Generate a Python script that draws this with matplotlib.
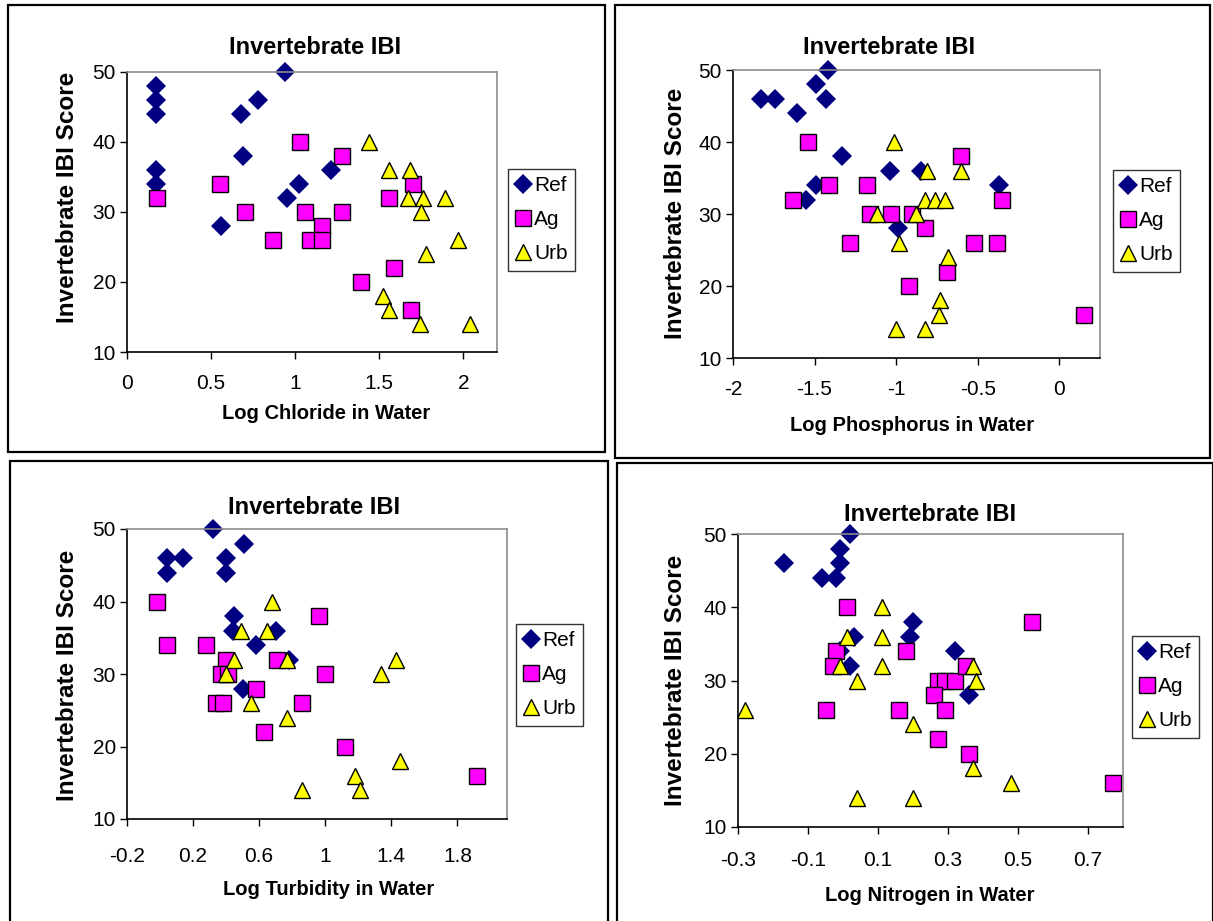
import matplotlib
matplotlib.use("Agg")
import matplotlib.pyplot as plt
from matplotlib.patches import Rectangle

plt.rcParams['font.family'] = ['Liberation Sans', 'DejaVu Sans']

W, H = 1213, 921

# ---- data ----
y_ticks = [10, 20, 30, 40, 50]
series_names = ["Ref", "Ag", "Urb"]

# Log Chloride
cl_ref_x = [0.17, 0.17, 0.17, 0.17, 0.17, 0.94, 0.78, 0.68, 0.69, 0.56, 1.21, 1.02, 0.95]
cl_ref_y = [48, 46, 44, 36, 34, 50, 46, 44, 38, 28, 36, 34, 32]
cl_ag_x = [0.18, 0.55, 1.03, 1.28, 0.70, 1.06, 1.28, 1.16, 0.87, 1.09, 1.16, 1.70, 1.56, 1.59, 1.39, 1.69]
cl_ag_y = [32, 34, 40, 38, 30, 30, 30, 28, 26, 26, 26, 34, 32, 22, 20, 16]
cl_urb_x = [1.44, 1.56, 1.68, 1.67, 1.76, 1.89, 1.75, 1.97, 1.78, 1.52, 1.56, 1.74, 2.04]
cl_urb_y = [40, 36, 36, 32, 32, 32, 30, 26, 24, 18, 16, 14, 14]
cl_xticks = [0, 0.5, 1, 1.5, 2]
cl_xticklabels = ["0", "0.5", "1", "1.5", "2"]

# Log Phosphorus
p_ref_x = [-1.83, -1.74, -1.61, -1.49, -1.42, -1.43, -1.33, -1.49, -1.55, -1.04, -0.99, -0.85, -0.37]
p_ref_y = [46, 46, 44, 48, 50, 46, 38, 34, 32, 36, 28, 36, 34]
p_ag_x = [-1.63, -1.54, -1.41, -1.18, -1.16, -1.28, -1.03, -0.90, -0.82, -0.92, -0.69, -0.60, -0.52, -0.38, -0.35, 0.15]
p_ag_y = [32, 40, 34, 34, 30, 26, 30, 30, 28, 20, 22, 38, 26, 26, 32, 16]
p_urb_x = [-1.01, -0.81, -0.60, -0.82, -0.76, -0.70, -1.12, -0.88, -0.98, -0.68, -0.73, -0.74, -1.00, -0.82]
p_urb_y = [40, 36, 36, 32, 32, 32, 30, 30, 26, 24, 18, 16, 14, 14]
p_xticks = [-2, -1.5, -1, -0.5, 0]
p_xticklabels = ["-2", "-1.5", "-1", "-0.5", "0"]

# Log Turbidity
t_ref_x = [0.32, 0.51, 0.04, 0.14, 0.04, 0.40, 0.40, 0.45, 0.44, 0.70, 0.58, 0.50, 0.78]
t_ref_y = [50, 48, 46, 46, 44, 46, 44, 38, 36, 36, 34, 28, 32]
t_ag_x = [-0.02, 0.04, 0.28, 0.40, 0.37, 0.41, 0.71, 0.96, 1.00, 0.58, 0.34, 0.38, 0.86, 0.63, 1.12, 1.92]
t_ag_y = [40, 34, 34, 32, 30, 30, 32, 38, 30, 28, 26, 26, 26, 22, 20, 16]
t_urb_x = [0.68, 0.49, 0.65, 0.45, 0.77, 0.40, 0.55, 0.77, 1.43, 1.34, 1.45, 1.18, 1.21, 0.86]
t_urb_y = [40, 36, 36, 32, 32, 30, 26, 24, 32, 30, 18, 16, 14, 14]
t_xticks = [-0.2, 0.2, 0.6, 1.0, 1.4, 1.8]
t_xticklabels = ["-0.2", "0.2", "0.6", "1", "1.4", "1.8"]

# Log Nitrogen
n_ref_x = [-0.17, 0.02, -0.01, -0.01, -0.06, -0.02, 0.03, 0.20, 0.19, -0.01, 0.02, 0.32, 0.36]
n_ref_y = [46, 50, 48, 46, 44, 44, 36, 38, 36, 34, 32, 34, 28]
n_ag_x = [0.01, -0.02, -0.03, -0.05, 0.18, 0.16, 0.27, 0.29, 0.32, 0.26, 0.29, 0.27, 0.35, 0.36, 0.54, 0.77]
n_ag_y = [40, 34, 32, 26, 34, 26, 30, 30, 30, 28, 26, 22, 32, 20, 38, 16]
n_urb_x = [-0.28, 0.11, 0.11, 0.01, -0.01, 0.11, 0.04, 0.20, 0.37, 0.38, 0.37, 0.48, 0.04, 0.20]
n_urb_y = [26, 40, 36, 36, 32, 32, 30, 24, 32, 30, 18, 16, 14, 14]
n_xticks = [-0.3, -0.1, 0.1, 0.3, 0.5, 0.7]
n_xticklabels = ["-0.3", "-0.1", "0.1", "0.3", "0.5", "0.7"]

# ---- layout (pixels) ----
panels = [
    dict(series=[(cl_ref_x, cl_ref_y), (cl_ag_x, cl_ag_y), (cl_urb_x, cl_urb_y)],
         xticks=cl_xticks, xlabels=cl_xticklabels, xlim=(0, 2.2),
         xlabel="Log Chloride in Water",
         plot=(127, 72, 497, 352), box=(8, 5, 605, 452), xpad=11,
         title_xy=(315, 48), xlab_xy=(326, 413), ylab_xy=(68, 197),
         legend_xy=(508, 169)),
    dict(series=[(p_ref_x, p_ref_y), (p_ag_x, p_ag_y), (p_urb_x, p_urb_y)],
         xticks=p_xticks, xlabels=p_xticklabels, xlim=(-2, 0.25),
         xlabel="Log Phosphorus in Water",
         plot=(733, 70, 1100, 358), box=(615, 5, 1210, 458), xpad=11,
         title_xy=(889, 48), xlab_xy=(912, 425), ylab_xy=(675, 213),
         legend_xy=(1113, 170)),
    dict(series=[(t_ref_x, t_ref_y), (t_ag_x, t_ag_y), (t_urb_x, t_urb_y)],
         xticks=t_xticks, xlabels=t_xticklabels, xlim=(-0.2, 2.1),
         xlabel="Log Turbidity in Water",
         plot=(127, 529, 507, 819), box=(10, 461, 608, 935), xpad=15,
         title_xy=(314, 508), xlab_xy=(329, 889), ylab_xy=(68, 675),
         legend_xy=(516, 624)),
    dict(series=[(n_ref_x, n_ref_y), (n_ag_x, n_ag_y), (n_urb_x, n_urb_y)],
         xticks=n_xticks, xlabels=n_xticklabels, xlim=(-0.3, 0.8),
         xlabel="Log Nitrogen in Water",
         plot=(738, 534, 1123, 827), box=(617, 463, 1213, 935), xpad=12,
         title_xy=(930, 514), xlab_xy=(930, 895), ylab_xy=(675, 680),
         legend_xy=(1132, 636)),
]

styles = [
    dict(marker="D", ms=10.5, color="#000080", mec="#000080", mew=0),
    dict(marker="s", ms=11.5, color="#FF00FF", mec="black", mew=1.0),
    dict(marker="^", ms=11.5, color="#FFFF00", mec="black", mew=1.0),
]

fig = plt.figure(figsize=(W / 100, H / 100), dpi=100)

for p in panels:
    bx0, by0, bx1, by1 = p["box"]
    fig.patches.append(Rectangle((bx0 / W, 1 - by1 / H), (bx1 - bx0) / W, (by1 - by0) / H,
                                 transform=fig.transFigure, fill=False,
                                 edgecolor="black", linewidth=1.6))

    x0, y0, x1, y1 = p["plot"]
    ax = fig.add_axes([x0 / W, 1 - y1 / H, (x1 - x0) / W, (y1 - y0) / H])
    for (xs, ys), st, name in zip(p["series"], styles, series_names):
        ax.plot(xs, ys, linestyle="none", marker=st["marker"], markersize=st["ms"],
                markerfacecolor=st["color"], markeredgecolor=st["mec"],
                markeredgewidth=st["mew"], clip_on=False, label=name)

    ax.set_xlim(*p["xlim"])
    ax.set_ylim(10, 50)
    ax.set_xticks(p["xticks"])
    ax.set_xticklabels(p["xlabels"])
    ax.set_yticks(y_ticks)
    ax.tick_params(direction="out", length=5, width=1, labelsize=15)
    ax.tick_params(axis="x", pad=p["xpad"])
    ax.tick_params(axis="y", pad=3)
    for s in ("top", "right"):
        ax.spines[s].set_color("#8c8c8c")
    for s in ("left", "bottom"):
        ax.spines[s].set_color("black")
    for s in ax.spines.values():
        s.set_linewidth(1.2)

    tx, ty = p["title_xy"]
    fig.text(tx / W, 1 - ty / H, "Invertebrate IBI", ha="center", va="center",
             fontsize=17, fontweight="bold")
    lx, ly = p["xlab_xy"]
    fig.text(lx / W, 1 - ly / H, p["xlabel"], ha="center", va="center",
             fontsize=14.5, fontweight="bold")
    vx, vy = p["ylab_xy"]
    fig.text(vx / W, 1 - vy / H, "Invertebrate IBI Score", ha="center", va="center",
             rotation=90, fontsize=17.5, fontweight="bold")

    gx, gy = p["legend_xy"]
    leg = ax.legend(loc="upper left", bbox_to_anchor=(gx / W, 1 - gy / H),
                    bbox_transform=fig.transFigure, fontsize=15, frameon=True,
                    fancybox=False, edgecolor="black", handlelength=0.7,
                    handletextpad=0.2, labelspacing=0.72, borderpad=0.35,
                    borderaxespad=0, markerscale=0.95, numpoints=1)
    leg.get_frame().set_linewidth(1.0)

fig.savefig("out.png", dpi=100)
